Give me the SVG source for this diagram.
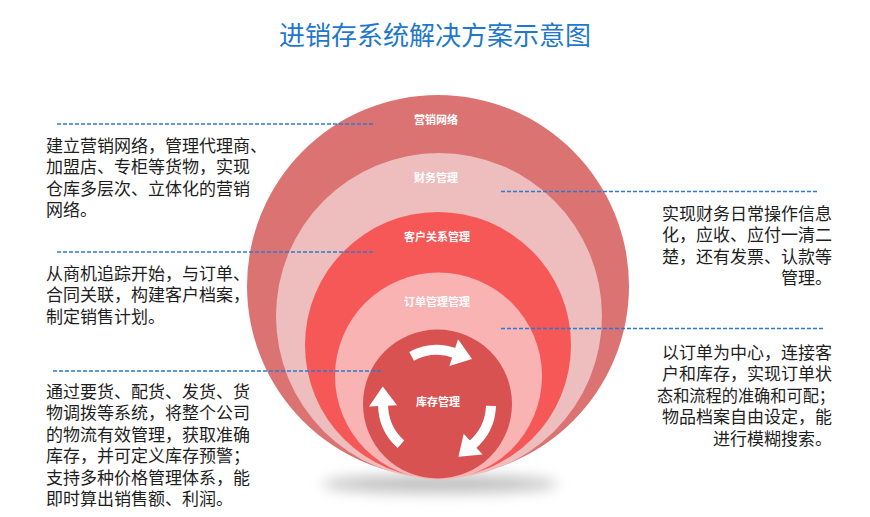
<svg xmlns="http://www.w3.org/2000/svg" width="870" height="517" viewBox="0 0 870 517">
<style>
.title{font-family:"Noto Sans CJK SC","Liberation Sans",sans-serif;font-size:26px;fill:#1f78cc}
.desc{font-family:"Noto Sans CJK SC","Liberation Sans",sans-serif;font-size:17px;fill:#1e1e1e}
.r{text-anchor:end}
.lbl{font-family:"Noto Sans CJK SC","Liberation Sans",sans-serif;font-size:11px;font-weight:bold;fill:#fff;text-anchor:middle}
.dash{stroke:#2a7bd0;stroke-width:1.5;stroke-dasharray:4 2;fill:none}
.shaft{fill:none;stroke:#fff;stroke-width:10}
.head{fill:#fff}
</style>
<defs>
<filter id="blur" x="-50%" y="-200%" width="200%" height="500%"><feGaussianBlur stdDeviation="7"/></filter>
</defs>
<text class="title" x="435" y="45" text-anchor="middle">进销存系统解决方案示意图</text>
<ellipse cx="440" cy="484" rx="118" ry="9" fill="#808080" opacity="0.5" filter="url(#blur)"/>
<g id="node-yingxiao">
<circle cx="438" cy="286" r="191" fill="#dc7373"/>
<text class="lbl" x="436" y="124">营销网络</text>
</g>
<g id="node-caiwu">
<circle cx="439" cy="316" r="163" fill="#eebdbd"/>
<text class="lbl" x="436" y="182">财务管理</text>
</g>
<g id="node-kehu">
<circle cx="438" cy="345" r="133" fill="#f65858"/>
<text class="lbl" x="437" y="241">客户关系管理</text>
</g>
<g id="node-dingdan">
<circle cx="438.5" cy="376" r="103.5" fill="#f9b3b3"/>
<text class="lbl" x="437" y="306">订单管理管理</text>
</g>
<g id="node-kucun">
<circle cx="437.5" cy="404" r="74.5" fill="#d95252"/>
<text class="lbl" x="438" y="406">库存管理</text>
<g id="cycle">
<g>
<path class="shaft" d="M411.6,356.3 A54,54 0 0 1 455.5,353.3"/>
<polygon class="head" points="458,339.3 472,359 449.4,366"/>
</g>
<g transform="rotate(120 437 404)">
<path class="shaft" d="M411.6,356.3 A54,54 0 0 1 455.5,353.3"/>
<polygon class="head" points="458,339.3 472,359 449.4,366"/>
</g>
<g transform="rotate(250 437 404)">
<path class="shaft" d="M411.6,356.3 A54,54 0 0 1 455.5,353.3"/>
<polygon class="head" points="458,339.3 472,359 449.4,366"/>
</g>
</g>
</g>
<g id="connectors">
<line class="dash" x1="57" y1="124" x2="373" y2="124"/>
<line class="dash" x1="57" y1="252" x2="373" y2="252"/>
<line class="dash" x1="53" y1="371" x2="382" y2="371"/>
<line class="dash" x1="501" y1="191.5" x2="818" y2="191.5"/>
<line class="dash" x1="501" y1="328.5" x2="823" y2="328.5"/>
</g>
<g id="desc-left-1">
<text class="desc" x="46" y="151.5">建立营销网络，管理代理商、</text>
<text class="desc" x="46" y="173">加盟店、专柜等货物，实现</text>
<text class="desc" x="46" y="194.5">仓库多层次、立体化的营销</text>
<text class="desc" x="46" y="216">网络。</text>
</g>
<g id="desc-left-2">
<text class="desc" x="46" y="279.5">从商机追踪开始，与订单、</text>
<text class="desc" x="46" y="301">合同关联，构建客户档案，</text>
<text class="desc" x="46" y="322.5">制定销售计划。</text>
</g>
<g id="desc-left-3">
<text class="desc" x="46" y="397.5">通过要货、配货、发货、货</text>
<text class="desc" x="46" y="419">物调拨等系统，将整个公司</text>
<text class="desc" x="46" y="440.5">的物流有效管理，获取准确</text>
<text class="desc" x="46" y="462">库存，并可定义库存预警；</text>
<text class="desc" x="46" y="483.5">支持多种价格管理体系，能</text>
<text class="desc" x="46" y="505">即时算出销售额、利润。</text>
</g>
<g id="desc-right-1">
<text class="desc r" x="832" y="219.5">实现财务日常操作信息</text>
<text class="desc r" x="832" y="241">化，应收、应付一清二</text>
<text class="desc r" x="832" y="262.5">楚，还有发票、认款等</text>
<text class="desc r" x="832" y="284">管理。</text>
</g>
<g id="desc-right-2">
<text class="desc r" x="832" y="358.5">以订单为中心，连接客</text>
<text class="desc r" x="832" y="380">户和库存，实现订单状</text>
<text class="desc" x="657" y="401.5" textLength="178" lengthAdjust="spacingAndGlyphs">态和流程的准确和可配；</text>
<text class="desc r" x="832" y="423">物品档案自由设定，能</text>
<text class="desc r" x="832" y="444.5">进行模糊搜索。</text>
</g>
</svg>
